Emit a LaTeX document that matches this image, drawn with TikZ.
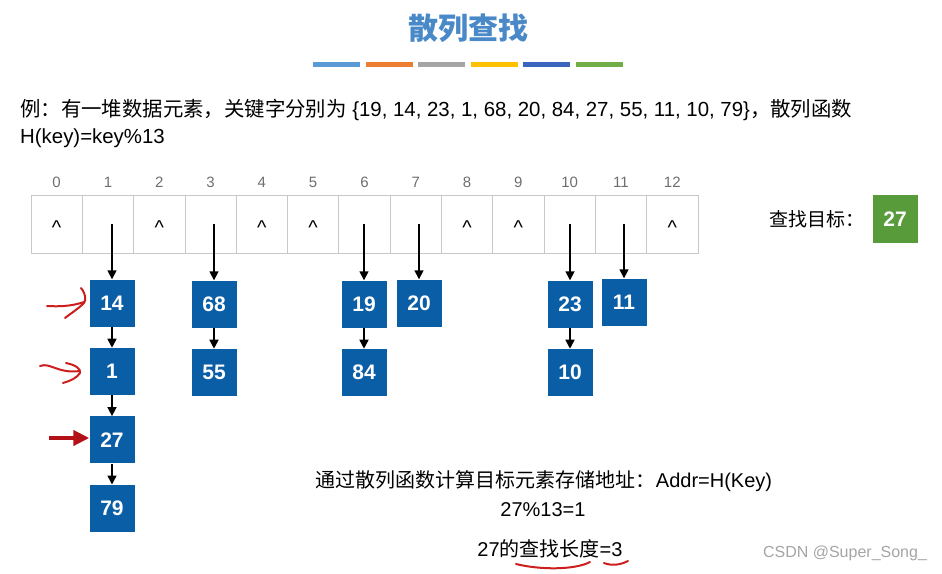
\documentclass[tikz,border=0pt]{standalone}
\usepackage{fontspec}
\setmainfont{Liberation Sans}
\newfontfamily\cjk{Noto Sans CJK SC}
\usetikzlibrary{positioning,arrows.meta}

\definecolor{titleblue}{RGB}{74,137,200}
\definecolor{boxblue}{RGB}{10,94,166}
\definecolor{goalgreen}{RGB}{88,155,58}
\definecolor{penred}{RGB}{205,30,30}
\definecolor{arrred}{RGB}{180,16,24}
\definecolor{cellgray}{RGB}{200,200,200}
\definecolor{idxgray}{RGB}{110,110,110}
\definecolor{barblue}{RGB}{91,155,213}
\definecolor{barorange}{RGB}{237,125,49}
\definecolor{bargray}{RGB}{165,165,165}
\definecolor{bargold}{RGB}{255,192,0}
\definecolor{bardark}{RGB}{58,100,190}
\definecolor{bargreen}{RGB}{112,173,71}

\tikzset{
  cell/.style={draw=cellgray, line width=0.8pt, minimum width=51.3pt, minimum height=58pt, inner sep=0pt},
  idx/.style={text=idxgray, font=\fontsize{15}{18}\selectfont, inner sep=0pt},
  key/.style={fill=boxblue, text=white, font=\fontsize{21}{24}\selectfont\bfseries,
    minimum width=45pt, minimum height=47pt, inner sep=0pt},
  link/.style={-{Triangle[length=9pt,width=9pt]}, line width=1.6pt},
  txt/.style={font=\fontsize{20}{24}\selectfont, inner sep=0pt},
  pen/.style={penred, line width=2pt, line cap=round, line join=round},
}

\begin{document}
\begin{tikzpicture}[x=1pt,y=-1pt]
  \useasboundingbox (0,0) rectangle (942,573);

  % title and coloured bars
  \node[font=\cjk\fontsize{30}{36}\selectfont\bfseries, text=titleblue] (title) at (468,28) {散列查找};
  \foreach \c [count=\k from 0] in {barblue,barorange,bargray,bargold,bardark,bargreen}
    \fill[\c] ({313+52.6*\k},62) rectangle ++(47,5);

  % problem text
  \node[txt, font=\fontsize{20.4}{24}\selectfont, anchor=west] (ex) at (20,110)
    {{\cjk 例：有一堆数据元素，关键字分别为} \{19, 14, 23, 1, 68, 20, 84, 27, 55, 11, 10, 79\}{\cjk ，散列函数}};
  \node[txt, font=\fontsize{20.4}{24}\selectfont, anchor=west] (hash) at (20,138) {H(key)=key\%13};

  % hash table
  \foreach \i in {0,...,12} {
    \node[cell] (c\i) at ({31+51.3*(\i+0.5)},224) {};
    \node[idx, above=7pt of c\i] {\i};
  }
  \foreach \i in {0,2,4,5,8,9,12}
    \node[font=\fontsize{20}{24}\selectfont, inner sep=0pt] at ([yshift=-4pt]c\i) {\textasciicircum};

  % chains
  \node[key] (n14) at (112,303) {14};
  \node[key, below=21pt of n14] (n1) {1};
  \node[key, below=21pt of n1] (n27) {27};
  \node[key, below=21pt of n27] (n79) {79};
  \node[key] (n68) at (214,304) {68};
  \node[key, below=21pt of n68] (n55) {55};
  \node[key] (n19) at (364,304) {19};
  \node[key, below=21pt of n19] (n84) {84};
  \node[key] (n20) at (419,303) {20};
  \node[key] (n23) at (570,304) {23};
  \node[key, below=21pt of n23] (n10) {10};
  \node[key] (n11) at (624,302) {11};

  \draw[link] (n14 |- c1) -- (n14);
  \draw[link] (n68 |- c3) -- (n68);
  \draw[link] (n19 |- c6) -- (n19);
  \draw[link] (n20 |- c7) -- (n20);
  \draw[link] (n23 |- c10) -- (n23);
  \draw[link] (n11 |- c11) -- (n11);
  \draw[link] (n14) -- (n1);
  \draw[link] (n1) -- (n27);
  \draw[link] (n27) -- (n79);
  \draw[link] (n68) -- (n55);
  \draw[link] (n19) -- (n84);
  \draw[link] (n23) -- (n10);

  % search target
  \node[font=\cjk\fontsize{19}{22}\selectfont, inner sep=0pt] (goal) at (817,219) {查找目标：};
  \node[key, fill=goalgreen, minimum height=48pt] (g27) at (895,219) {27};

  % red marks
  \draw[pen] (47,306) .. controls (65,307) and (75,305) .. (84,302);
  \draw[pen] (81,288) .. controls (86,294) and (86,300) .. (84,303) .. controls (78,309) and (70,314) .. (65,318);
  \draw[pen] (40,366) .. controls (50,362) and (58,374) .. (80,371);
  \draw[pen] (66,363) .. controls (76,365) and (81,369) .. (80,373) .. controls (77,378) and (70,381) .. (63,383);
  \coordinate (p27) at (49,438);
  \draw[arrred, line width=4.5pt, -{Triangle[length=16pt,width=15pt]}] (p27) -- (n27.west |- p27);

  % bottom text
  \node[txt] (addr) at (544,481) {{\cjk 通过散列函数计算目标元素存储地址：}Addr=H(Key)};
  \node[txt] (calc) at (543,510) {27\%13=1};
  \node[txt] (len) at (550,549) {27{\cjk 的查找长度}=3};
  \draw[pen] (516,564) .. controls (540,570) and (575,570) .. (590,562);
  \draw[pen] (604,563) .. controls (612,566) and (620,565) .. (628,561);
  \node[text=bargray, font=\fontsize{16}{19}\selectfont] (csdn) at (845,553) {CSDN @Super\_Song\_};
\end{tikzpicture}
\end{document}
